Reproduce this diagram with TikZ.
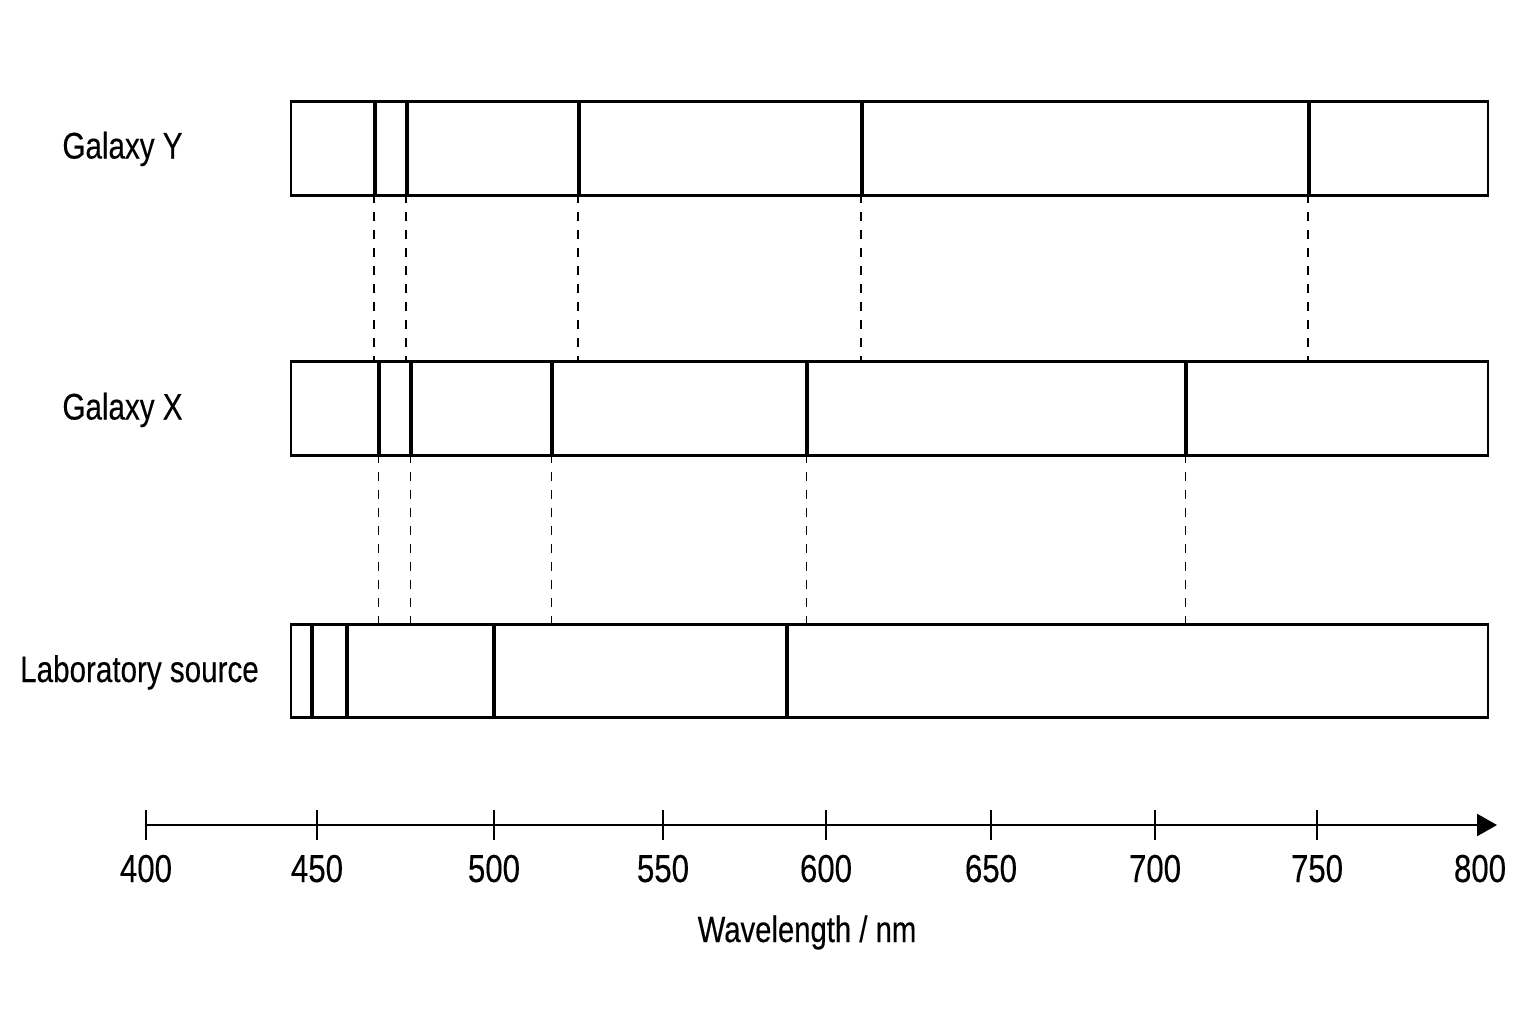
\documentclass[tikz,border=0pt]{standalone}
\usepackage{fontspec}
\setmainfont[FakeStretch=0.8,FakeBold=0.3]{Liberation Sans}
\usetikzlibrary{arrows.meta}
\begin{document}
\begin{tikzpicture}[x=0.5pt,y=-0.5pt,
  specbox/.style={draw,line width=1.4pt,inner sep=0pt,minimum width=598.5pt,minimum height=47pt,anchor=north west},
  specline/.style={line width=1.7pt},
  dashline/.style={line width=0.7pt,dash pattern=on 4.5pt off 4.5pt},
  rowlabel/.style={anchor=base,inner sep=0pt,font=\fontsize{18.5}{22}\selectfont},
  ticklabel/.style={anchor=base,inner sep=0pt,font=\fontsize{19.5}{23}\selectfont},
  axisline/.style={line width=1.2pt},
  tickmark/.style={line width=1.2pt}]
\useasboundingbox[fill=white] (0,0) rectangle (1536,1024);

% boxes
\node[specbox] (Y) at (289.5,100) {};
\node[specbox] (X) at (289.5,360) {};
\node[specbox,minimum height=46.5pt] (L) at (289.5,623) {};

% labels
\node[rowlabel] (lY) at (122.5,158.5) {Galaxy Y};
\node[rowlabel] (lX) at (122.5,419.5) {Galaxy X};
\node[rowlabel] (lL) at (139.5,682) {Laboratory source};

% Galaxy Y lines and dashed connectors
\foreach \x [count=\i] in {375,407,579,862,1309} {
  \draw[specline] (\x,100) -- (\x,194);
  \coordinate (Yb\i) at (\x-1,194);
  \coordinate (Xt\i) at (\x-1,360);
  \draw[dashline] (Yb\i) -- (Xt\i);
}
% Galaxy X lines and dashed connectors
\foreach \x [count=\i] in {379,411,552,807,1186} {
  \draw[specline] (\x,360) -- (\x,454);
  \coordinate (Xb\i) at (\x-0.5,454);
  \coordinate (Lt\i) at (\x-0.5,623);
  \draw[dashline] (Xb\i) -- (Lt\i);
}
% Laboratory lines
\foreach \x in {312,347,494,787} {
  \draw[specline] (\x,623) -- (\x,716);
}

% axis
\coordinate (a0) at (146,825);
\coordinate (a1) at (1497,825);
\draw[axisline,-{Triangle[length=10pt,width=11pt]}] (a0) -- (a1);
\foreach \x/\v in {146/400,317/450,494/500,663/550,826/600,991/650,1155/700,1317/750} {
  \draw[tickmark] (\x,810) -- (\x,840);
  \node[ticklabel] (t\v) at (\x,882) {\v};
}
\node[ticklabel] (t800) at (1480,882) {800};
\node[ticklabel,font=\fontsize{18.3}{22}\selectfont] (xl) at (807,942) {Wavelength / nm};
\end{tikzpicture}
\end{document}
